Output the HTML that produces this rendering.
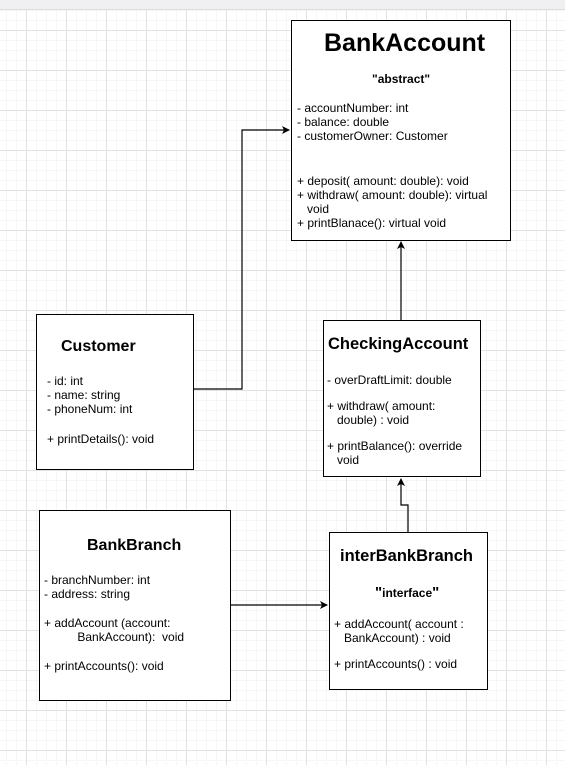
<!DOCTYPE html>
<html><head><style>
body{margin:0;width:565px;height:765px;position:relative;overflow:hidden;background:#fff;font-family:"Liberation Sans",Arial,sans-serif;color:#000}
.grid{position:absolute;left:0;top:0;width:565px;height:765px;
background-image:
linear-gradient(to right,#e2e2e2 1px,transparent 1px),
linear-gradient(to bottom,#e2e2e2 1px,transparent 1px),
linear-gradient(to right,#f6f6f6 1px,transparent 1px),
linear-gradient(to bottom,#f6f6f6 1px,transparent 1px);
background-size:40px 40px,40px 40px,10px 10px,10px 10px;
background-position:26px 30px,26px 30px,6px 0,6px 0;}
.top{position:absolute;left:0;top:0;width:565px;height:9px;background:#f0f0f2;border-bottom:1px solid #ddd}
.box{position:absolute;background:#fff;border:1px solid #000;box-sizing:border-box;font-size:12px;line-height:14px}
.t{position:absolute;font-weight:bold;white-space:nowrap}
.l{position:absolute;white-space:nowrap}
svg{position:absolute;left:0;top:0}
</style></head><body>
<div class="grid"></div><div class="top"></div>
<svg width="565" height="765">
<defs><marker id="a" markerWidth="8" markerHeight="8" refX="7" refY="4" orient="auto" markerUnits="userSpaceOnUse"><path d="M0,0 L8,4 L0,8 L2,4z" fill="#000"/></marker></defs>
<g stroke="#000" stroke-width="1.2" fill="none">
<path d="M193,389 H242 V130 H289" marker-end="url(#a)"/>
<path d="M401,320 V242" marker-end="url(#a)"/>
<path d="M408,532 V505 H401 V479" marker-end="url(#a)"/>
<path d="M230,605 H327" marker-end="url(#a)"/>
</g></svg>

<div class="box" style="left:291px;top:20px;width:220px;height:221px">
<div class="t" style="left:32px;top:8px;font-size:25px;line-height:28px">BankAccount</div>
<div class="t" style="left:80px;top:51px;font-size:12px">"abstract"</div>
<div class="l" style="left:5px;top:80px">- accountNumber: int<br>- balance: double<br>- customerOwner: Customer</div>
<div class="l" style="left:5px;top:153px">+ deposit( amount: double): void<br>+ withdraw( amount: double): virtual<br>&nbsp;&nbsp;&nbsp;void<br>+ printBlanace(): virtual void</div>
</div>

<div class="box" style="left:36px;top:314px;width:158px;height:156px">
<div class="t" style="left:24px;top:23px;font-size:16px;line-height:18px">Customer</div>
<div class="l" style="left:10px;top:59px">- id: int<br>- name: string<br>- phoneNum: int</div>
<div class="l" style="left:10px;top:117px">+ printDetails(): void</div>
</div>

<div class="box" style="left:323px;top:320px;width:158px;height:157px">
<div class="t" style="left:4px;top:14px;font-size:16.5px;line-height:18px">CheckingAccount</div>
<div class="l" style="left:3px;top:52px">- overDraftLimit: double</div>
<div class="l" style="left:3px;top:78px">+ withdraw( amount:<br>&nbsp;&nbsp;&nbsp;double) : void</div>
<div class="l" style="left:3px;top:118px">+ printBalance(): override<br>&nbsp;&nbsp;&nbsp;void</div>
</div>

<div class="box" style="left:39px;top:510px;width:192px;height:191px">
<div class="t" style="left:47px;top:26px;font-size:16px;line-height:18px">BankBranch</div>
<div class="l" style="left:4px;top:62px">- branchNumber: int<br>- address: string</div>
<div class="l" style="left:4px;top:105px">+ addAccount (account:<br>&nbsp;&nbsp;&nbsp;&nbsp;&nbsp;&nbsp;&nbsp;&nbsp;&nbsp;&nbsp;BankAccount):&nbsp; void</div>
<div class="l" style="left:4px;top:148px">+ printAccounts(): void</div>
</div>

<div class="box" style="left:329px;top:532px;width:159px;height:158px">
<div class="t" style="left:10px;top:14px;font-size:16.5px;line-height:18px">interBankBranch</div>
<div class="t" style="left:45px;top:53px;font-size:12px"><span style="font-size:15px">"</span>interface<span style="font-size:15px">"</span></div>
<div class="l" style="left:4px;top:84px">+ addAccount( account :<br>&nbsp;&nbsp;&nbsp;BankAccount) : void</div>
<div class="l" style="left:4px;top:124px">+ printAccounts() : void</div>
</div>
</body></html>
